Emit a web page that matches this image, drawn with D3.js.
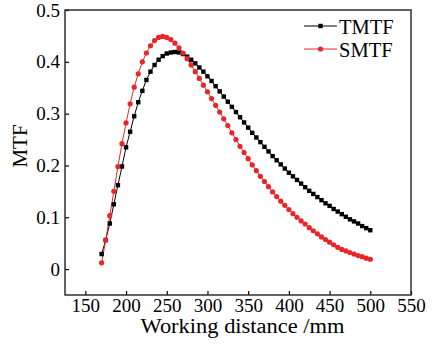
<!DOCTYPE html>
<html><head><meta charset="utf-8">
<script src="https://cdn.jsdelivr.net/npm/d3@7"></script>
<style>body{margin:0;background:#fff}svg{display:block}svg text{font-family:'Liberation Serif','Times New Roman',serif !important;fill:#000}</style>
</head><body>
<svg id="c" width="438" height="345"></svg>
<script>
const distances = d3.range(170, 501, 5);
const tmtf = [0.029,0.056,0.088,0.125,0.162,0.198,0.235,0.265,0.295,0.322,0.344,0.365,0.381,0.394,0.404,0.411,0.416,0.418,0.419,0.418,0.415,0.410,0.404,0.397,0.389,0.381,0.372,0.363,0.353,0.343,0.333,0.323,0.313,0.303,0.293,0.283,0.273,0.263,0.254,0.245,0.236,0.227,0.218,0.210,0.202,0.194,0.186,0.179,0.172,0.165,0.158,0.151,0.145,0.139,0.133,0.127,0.122,0.116,0.111,0.106,0.101,0.096,0.092,0.088,0.083,0.079,0.075];
const smtf = [0.012,0.056,0.103,0.150,0.198,0.242,0.282,0.319,0.351,0.377,0.400,0.417,0.431,0.441,0.447,0.449,0.447,0.443,0.436,0.427,0.417,0.406,0.394,0.381,0.368,0.355,0.342,0.329,0.316,0.303,0.290,0.277,0.263,0.250,0.237,0.225,0.213,0.201,0.190,0.179,0.169,0.159,0.149,0.140,0.131,0.123,0.115,0.107,0.100,0.093,0.087,0.080,0.074,0.068,0.062,0.057,0.052,0.047,0.042,0.038,0.035,0.032,0.029,0.026,0.024,0.021,0.019];
const xTicks = [150,200,250,300,350,400,450,500,550];
const yTicks = [0,0.1,0.2,0.3,0.4,0.5];
const seriesNames = ["TMTF","SMTF"];
const seriesColors = ["#000000","#e8262a"];

const svg = d3.select("#c");
const L=65, R=411, T=10, B=295;
const x = d3.scaleLinear().domain([125,550]).range([L,R]);
const y = d3.scaleLinear().domain([-0.05,0.5]).range([B,T]);

const xa = svg.append("g").attr("transform",`translate(0,${B})`)
  .call(d3.axisBottom(x).tickValues(xTicks).tickSize(-4).tickPadding(4).tickFormat(d3.format("d")));
const ya = svg.append("g").attr("transform",`translate(${L},0)`)
  .call(d3.axisLeft(y).tickValues(yTicks).tickSize(-4).tickPadding(5).tickFormat(d=>d===0?"0":d3.format(".1f")(d)));
[xa,ya].forEach(a=>{
  a.attr("font-family","Liberation Serif").attr("font-size",19);
  a.select(".domain").remove();
  a.selectAll("line").attr("stroke","#000").attr("stroke-width",1.2);
  a.selectAll("text").attr("font-size",19);
});
xa.selectAll("text").attr("dy","0.68em");

svg.append("rect").attr("x",L).attr("y",T).attr("width",R-L).attr("height",B-T)
  .attr("fill","none").attr("stroke","#222").attr("stroke-width",1.4);

const data = [tmtf, smtf];
const line = d3.line().x((d,i)=>x(distances[i])).y(d=>y(d));
data.forEach((vals,k)=>{
  svg.append("path").datum(vals).attr("d",line).attr("fill","none").attr("stroke",seriesColors[k]).attr("stroke-width",1);
});
svg.append("g").selectAll("rect").data(tmtf).join("rect")
  .attr("x",(d,i)=>x(distances[i])-2.2).attr("y",d=>y(d)-2.2).attr("width",4.4).attr("height",4.4).attr("fill",seriesColors[0]);
svg.append("g").selectAll("circle").data(smtf).join("circle")
  .attr("cx",(d,i)=>x(distances[i])).attr("cy",d=>y(d)).attr("r",2.6).attr("fill",seriesColors[1]);

// legend
const lg = svg.append("g");
const ly = [26,49];
seriesNames.forEach((n,k)=>{
  lg.append("line").attr("x1",304).attr("x2",337).attr("y1",ly[k]).attr("y2",ly[k]).attr("stroke",seriesColors[k]).attr("stroke-width",1);
  if(k===0) lg.append("rect").attr("x",320.5-2.2).attr("y",ly[k]-2.2).attr("width",4.4).attr("height",4.4).attr("fill",seriesColors[k]);
  else lg.append("circle").attr("cx",320.5).attr("cy",ly[k]).attr("r",2.6).attr("fill",seriesColors[k]);
  lg.append("text").attr("x",339).attr("y",ly[k]+7.5).attr("font-size",20.5).text(n);
});

svg.append("text").attr("x",242.5).attr("y",333).attr("text-anchor","middle").attr("font-size",20)
  .attr("textLength",204).attr("lengthAdjust","spacingAndGlyphs").text("Working distance /mm");
svg.append("text").attr("transform","translate(27,146) rotate(-90)").attr("text-anchor","middle").attr("font-size",21).text("MTF");
</script>
</body></html>
